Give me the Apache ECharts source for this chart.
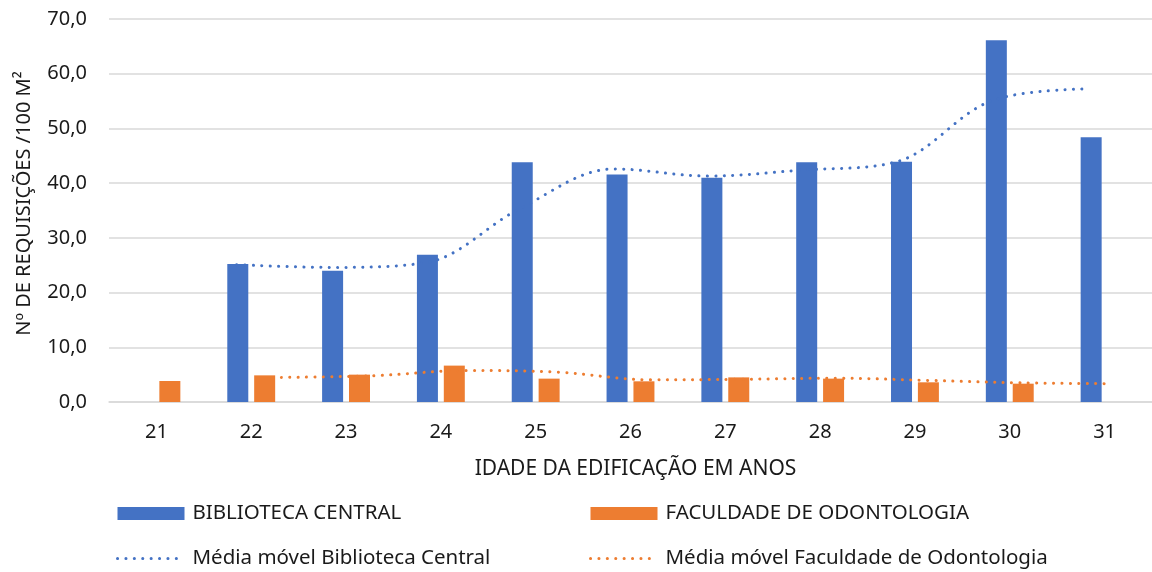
<!DOCTYPE html>
<html>
<head>
<meta charset="utf-8">
<script src="https://cdn.jsdelivr.net/npm/echarts@6/dist/echarts.min.js"></script>
<style>
html,body{margin:0;padding:0;background:#fff;}
#chart{width:1152px;height:572px;}
</style>
</head>
<body>
<div id="chart"></div>
<script>
const categories = ['21','22','23','24','25','26','27','28','29','30','31'];
const ages = [21,22,23,24,25,26,27,28,29,30,31];
const biblioteca = [null, 25.2, 24.0, 26.9, 43.8, 41.6, 41.0, 43.8, 43.9, 66.1, 48.4];
const odontologia = [3.84, 4.87, 5.0, 6.65, 4.27, 3.78, 4.5, 4.27, 3.6, 3.35, null];
const mmBiblioteca = [null, 25.1, 24.6, 25.45, 35.3, 42.6, 41.3, 42.4, 43.9, 55.0, 57.2];
const mmOdontologia = [null, 4.5, 4.8, 5.75, 5.45, 4.05, 4.15, 4.35, 3.95, 3.5, 3.35];
const yTicks = [0, 10, 20, 30, 40, 50, 60, 70];

const FONT = 'Noto Sans';
const BLUE = '#4472C4';
const ORANGE = '#ED7D31';
const TXT = '#1a1a1a';
const DOTS = { width: 3, type: [0.1, 8.3], cap: 'round' };

function pairs(xs, ys){
  const out = [];
  for (let i = 0; i < xs.length; i++) if (ys[i] != null) out.push([xs[i], ys[i]]);
  return out;
}

const legendCommon = {
  top: 503, orient: 'vertical', itemGap: 24, itemWidth: 67, itemHeight: 13, padding: 0,
  textStyle: { fontSize: 20.5, color: TXT, fontFamily: FONT, lineHeight: 20, padding: [0,0,0,3] }
};

const chart = echarts.init(document.getElementById('chart'));
chart.setOption({
  animation: false,
  backgroundColor: '#fff',
  textStyle: { fontFamily: FONT, color: TXT },
  grid: { left: 109, right: -2, top: 19, bottom: 170, containLabel: false },
  xAxis: [
    {
      type: 'category', data: categories,
      axisLine: { show: true, lineStyle: { color: '#d9d9d9', width: 1.5 } },
      axisTick: { show: false },
      axisLabel: { fontSize: 20, color: TXT, margin: 20, fontFamily: FONT },
      name: 'IDADE DA EDIFICAÇÃO EM ANOS', nameLocation: 'middle', nameGap: 57,
      nameTextStyle: { fontSize: 21, color: TXT, fontFamily: FONT, padding: [0,0,0,10] }
    },
    { type: 'value', min: 20.645, max: 31.71, show: false },
    { type: 'value', min: 20.133, max: 31.43, show: false }
  ],
  yAxis: {
    type: 'value', min: yTicks[0], max: yTicks[yTicks.length-1], interval: 10,
    axisLine: { show: false }, axisTick: { show: false },
    splitLine: { lineStyle: { color: '#d9d9d9', width: 1.5 } },
    axisLabel: { fontSize: 20, color: TXT, margin: 22, fontFamily: FONT,
      formatter: v => v.toFixed(1).replace('.', ',') },
    name: 'Nº DE REQUISIÇÕES /100 M²', nameLocation: 'middle', nameGap: 75, nameRotate: 90,
    nameTextStyle: { fontSize: 20, color: TXT, fontFamily: FONT, padding: [0,0,0,14] }
  },
  legend: [
    Object.assign({ left: 116,
      data: [{ name: 'BIBLIOTECA CENTRAL', icon: 'rect' },
             { name: 'Média móvel Biblioteca Central', itemStyle: { opacity: 0 },
               lineStyle: Object.assign({ color: BLUE }, DOTS) }] }, legendCommon),
    Object.assign({ left: 589,
      data: [{ name: 'FACULDADE DE ODONTOLOGIA', icon: 'rect' },
             { name: 'Média móvel Faculdade de Odontologia', itemStyle: { opacity: 0 },
               lineStyle: Object.assign({ color: ORANGE }, DOTS) }] }, legendCommon)
  ],
  series: [
    { name: 'BIBLIOTECA CENTRAL', type: 'bar', data: biblioteca, barWidth: 21, barGap: '28%',
      itemStyle: { color: BLUE } },
    { name: 'FACULDADE DE ODONTOLOGIA', type: 'bar', data: odontologia, barWidth: 21, barGap: '28%',
      itemStyle: { color: ORANGE } },
    { name: 'Média móvel Biblioteca Central', type: 'line', xAxisIndex: 1, data: pairs(ages, mmBiblioteca),
      smooth: 0.35, symbol: 'none', z: 5,
      lineStyle: Object.assign({ color: BLUE }, DOTS), itemStyle: { color: BLUE } },
    { name: 'Média móvel Faculdade de Odontologia', type: 'line', xAxisIndex: 2, data: pairs(ages, mmOdontologia),
      smooth: 0.35, symbol: 'none', z: 5,
      lineStyle: Object.assign({ color: ORANGE }, DOTS), itemStyle: { color: ORANGE } }
  ]
});
</script>
</body>
</html>
